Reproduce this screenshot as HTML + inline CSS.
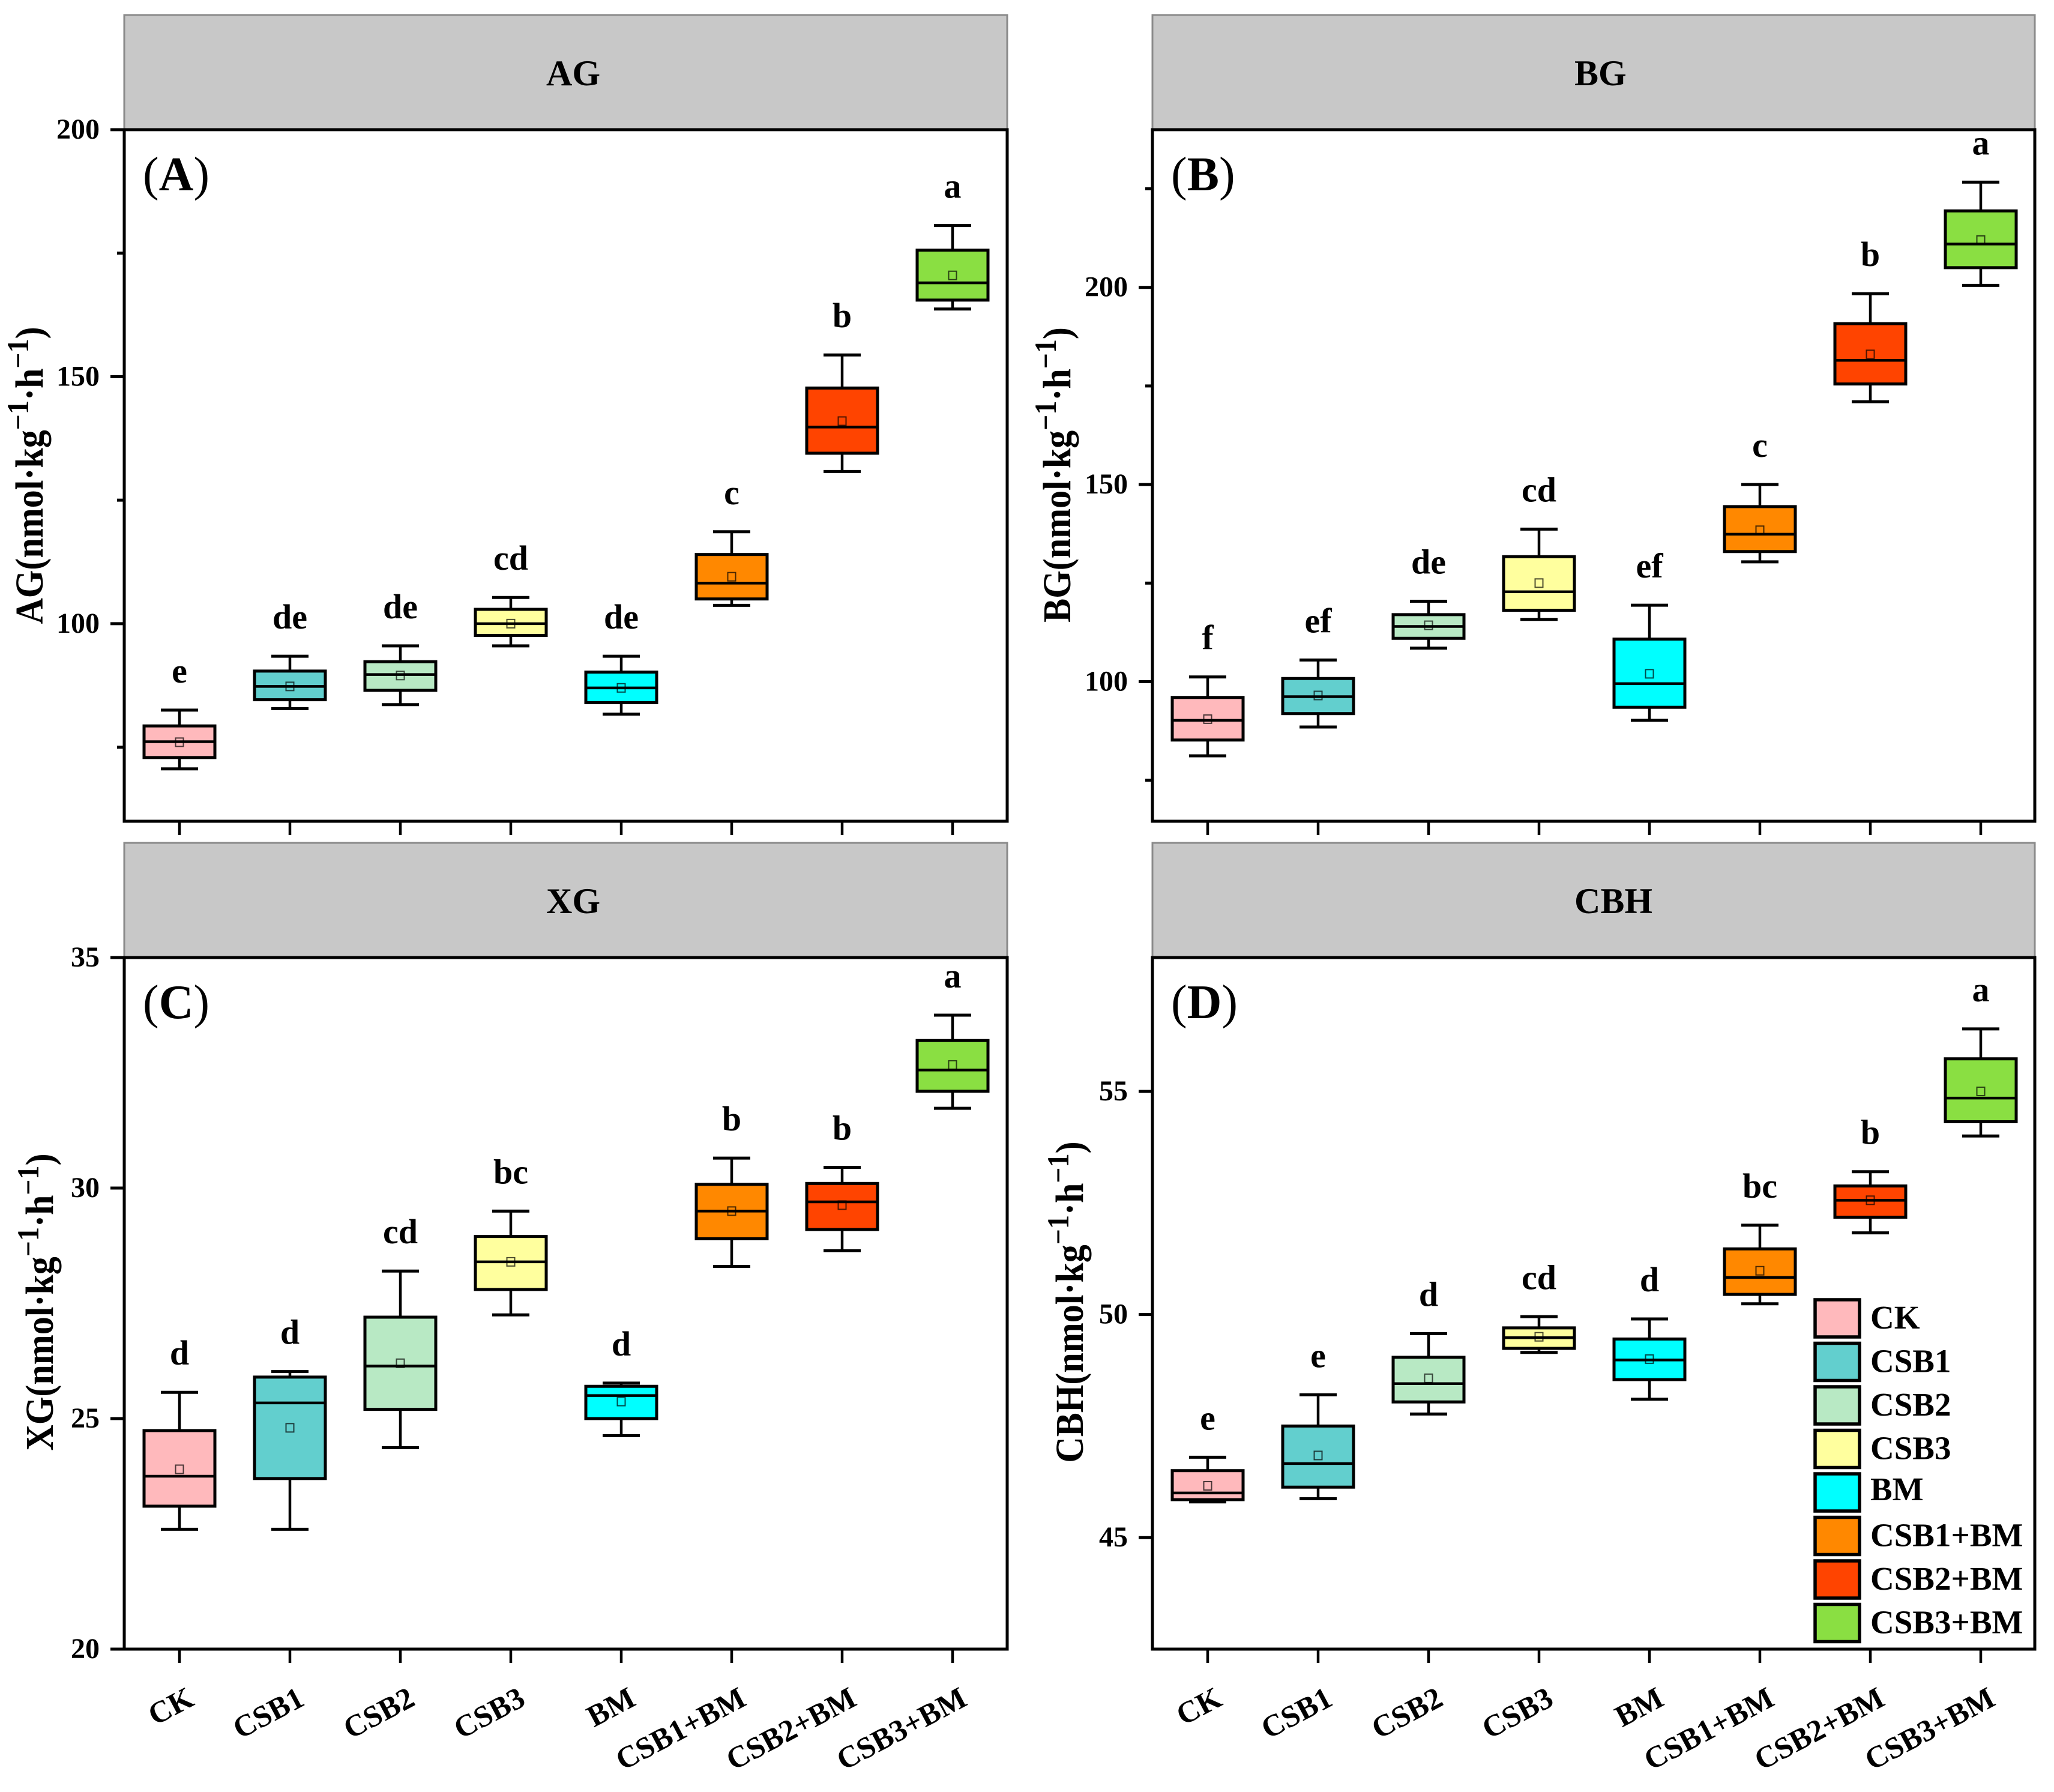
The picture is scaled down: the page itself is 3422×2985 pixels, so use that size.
<!DOCTYPE html>
<html lang="en">
<head>
<meta charset="utf-8">
<title>Enzyme activity box plots</title>
<style>
html,body{margin:0;padding:0;background:#fff;width:3422px;height:2985px;overflow:hidden}
svg{display:block}
text{font-family:"Liberation Serif",serif;font-weight:bold;fill:#000}
</style>
</head>
<body>
<svg id="chart" xmlns="http://www.w3.org/2000/svg" width="3422" height="2985" viewBox="0 0 3422 2985"></svg>
<script>
const categories = ['CK','CSB1','CSB2','CSB3','BM','CSB1+BM','CSB2+BM','CSB3+BM'];
const fillColors = ['#ffb9bc','#62cfce','#b8e9c4','#ffff9e','#00ffff','#ff8800','#ff4400','#8adf42'];

const agHigh   = [82.5,93.4,95.5,105.3,93.4,118.6,154.4,180.6];
const agQ3     = [79.3,90.4,92.3,102.9,90.2,114,147.7,175.6];
const agMedian = [76.1,87.3,89.7,100,87,108.2,139.8,169];
const agQ1     = [72.9,84.6,86.5,97.6,84,105,134.5,165.5];
const agLow    = [70.6,82.8,83.6,95.5,81.7,103.7,130.8,163.7];
const agMean   = [76,87.3,89.5,100,87,109.5,141,170.5];
const agLetters = ['e','de','de','cd','de','c','b','a'];
const agTicks = [100,150,200];
const agMinorTicks = [75,125,175];

const bgHigh   = [101.2,105.5,120.4,138.7,119.4,150,198.4,226.7];
const bgQ3     = [96,100.8,117,131.7,110.8,144.4,190.8,219.4];
const bgMedian = [90.2,96.2,114,122.8,99.5,137.4,181.5,211];
const bgQ1     = [85.2,91.9,111,118.1,93.5,133,175.5,205];
const bgLow    = [81.2,88.5,108.5,115.8,90.2,130.4,171,200.5];
const bgMean   = [90.5,96.5,114.3,125,102,138.4,183,212];
const bgLetters = ['f','ef','de','cd','ef','c','b','a'];
const bgTicks = [100,150,200];
const bgMinorTicks = [75,125,175,225];

const xgHigh   = [25.57,26.02,28.2,29.5,25.77,30.65,30.45,33.75];
const xgQ3     = [24.74,25.9,27.2,28.95,25.7,30.08,30.1,33.2];
const xgMedian = [23.75,25.34,26.14,28.4,25.5,29.5,29.7,32.56];
const xgQ1     = [23.1,23.7,25.2,27.8,25,28.9,29.1,32.1];
const xgLow    = [22.6,22.6,24.37,27.25,24.63,28.3,28.64,31.73];
const xgMean   = [23.9,24.8,26.2,28.4,25.37,29.5,29.63,32.67];
const xgLetters = ['d','d','cd','bc','d','b','b','a'];
const xgTicks = [20,25,30,35];
const xgMinorTicks = [];

const cbhHigh   = [46.8,48.2,49.57,49.95,49.9,52,53.2,56.4];
const cbhQ3     = [46.5,47.5,49.04,49.7,49.45,51.47,52.88,55.73];
const cbhMedian = [46,46.66,48.45,49.48,48.98,50.83,52.56,54.85];
const cbhQ1     = [45.85,46.13,48.04,49.24,48.54,50.45,52.18,54.32];
const cbhLow    = [45.8,45.87,47.77,49.15,48.1,50.24,51.83,54];
const cbhMean   = [46.16,46.84,48.57,49.5,49,50.98,52.56,55];
const cbhLetters = ['e','e','d','cd','d','bc','b','a'];
const cbhTicks = [45,50,55];
const cbhMinorTicks = [];

const panels = [
 {id:'ag',name:'AG',tag:'A',L:207,R:1678,T:216,B:1368,S:25,min:60,max:200,x0:299,hi:agHigh,q3:agQ3,med:agMedian,q1:agQ1,lo:agLow,mean:agMean,let:agLetters,ticks:agTicks,minor:agMinorTicks,titleX:71,titleY:792,xLabels:false},
 {id:'bg',name:'BG',tag:'B',L:1920,R:3390,T:216,B:1368,S:25,min:64.6,max:240,x0:2012,hi:bgHigh,q3:bgQ3,med:bgMedian,q1:bgQ1,lo:bgLow,mean:bgMean,let:bgLetters,ticks:bgTicks,minor:bgMinorTicks,titleX:1783,titleY:791,xLabels:false},
 {id:'xg',name:'XG',tag:'C',L:207,R:1678,T:1595,B:2747,S:1404,min:20,max:35,x0:299,hi:xgHigh,q3:xgQ3,med:xgMedian,q1:xgQ1,lo:xgLow,mean:xgMean,let:xgLetters,ticks:xgTicks,minor:xgMinorTicks,titleX:88,titleY:2169,xLabels:true},
 {id:'cbh',name:'CBH',tag:'D',L:1920,R:3390,T:1595,B:2747,S:1404,min:42.5,max:58,x0:2012,hi:cbhHigh,q3:cbhQ3,med:cbhMedian,q1:cbhQ1,lo:cbhLow,mean:cbhMean,let:cbhLetters,ticks:cbhTicks,minor:cbhMinorTicks,titleX:1804,titleY:2169,xLabels:true}
];

const NS = 'http://www.w3.org/2000/svg';
const root = document.getElementById('chart');
const DX = 184.0;

function mk(tag, parent, attrs, txt){
  const n = document.createElementNS(NS, tag);
  for (const k in attrs) n.setAttribute(k, attrs[k]);
  if (txt !== undefined) n.textContent = txt;
  parent.appendChild(n);
  return n;
}

function line(parent, x1, y1, x2, y2, w){
  return mk('line', parent, {x1:x1, y1:y1, x2:x2, y2:y2, stroke:'#000', 'stroke-width':w});
}

function drawTitle(p, g){
  const t = mk('text', g, {
    x:0, y:0, 'text-anchor':'middle', 'font-size':60,
    transform:'translate('+p.titleX+' '+p.titleY+') rotate(-90) scale(1 1.1)'
  });
  
  
  mk('tspan', t, {}, p.name + '(nmol·kg');
  mk('tspan', t, {dy:-22,'font-size':46}, '−1');
  mk('tspan', t, {dy:22}, '·h');
  mk('tspan', t, {dy:-22,'font-size':46}, '−1');
  mk('tspan', t, {dy:22}, ')');
}

function drawPanel(p){
  const yOf = v => p.B - (v - p.min) / (p.max - p.min) * (p.B - p.T);
  const xOf = i => p.x0 + i * DX;

  const g = mk('g', root, {});
  
  

  const strip = mk('rect', g, {x:p.L, y:p.S, width:p.R-p.L, height:p.T-p.S, fill:'#c8c8c8', stroke:'#8a8a8a', 'stroke-width':3});
  
  

  const stripText = mk('text', g, {x:p.L+703, y:p.S+117, 'font-size':60}, p.name);
  
  

  const frame = mk('rect', g, {x:p.L, y:p.T, width:p.R-p.L, height:p.B-p.T, fill:'#fff', stroke:'#000', 'stroke-width':5});
  
  

  const tag = mk('text', g, {x:p.L+31, y:p.T+101, 'font-size':80});
  
  
  mk('tspan', tag, {'font-weight':'normal'}, '(');
  mk('tspan', tag, {}, p.tag);
  mk('tspan', tag, {'font-weight':'normal'}, ')');

  p.ticks.forEach(v => {
    const y = yOf(v);
    const tk = line(g, p.L-23, y, p.L, y, 5);
    
    
    const lb = mk('text', g, {x:p.L-41, y:y+15, 'text-anchor':'end', 'font-size':48}, String(v));
    
    
  });
  p.minor.forEach(v => {
    const y = yOf(v);
    const tk = line(g, p.L-12, y, p.L, y, 5);
    
    
  });

  drawTitle(p, g);

  categories.forEach((c, i) => {
    const x = xOf(i);
    const tk = line(g, x, p.B, x, p.B+23, 4.5);
    
    
    if (p.xLabels){
      const ax = x + 27, ay = p.B + 92;
      const lb = mk('text', g, {x:ax, y:ay, 'text-anchor':'end', 'font-size':51, transform:'rotate(-28 '+ax+' '+ay+')'}, c);
      
      
    }

    const box = mk('g', g, {});
    
    

    line(box, x, yOf(p.hi[i]), x, yOf(p.lo[i]), 4.5);
    line(box, x-31, yOf(p.hi[i]), x+31, yOf(p.hi[i]), 5);
    line(box, x-31, yOf(p.lo[i]), x+31, yOf(p.lo[i]), 5);
    mk('rect', box, {x:x-59, y:yOf(p.q3[i]), width:118, height:yOf(p.q1[i])-yOf(p.q3[i]), fill:fillColors[i], stroke:'#000', 'stroke-width':5});
    line(box, x-59, yOf(p.med[i]), x+59, yOf(p.med[i]), 4.5);
    mk('rect', box, {x:x-6.5, y:yOf(p.mean[i])-7, width:13, height:14, fill:'none', stroke:'#000', 'stroke-opacity':0.7, 'stroke-width':2});

    const sig = mk('text', g, {x:x, y:yOf(p.hi[i])-46, 'text-anchor':'middle', 'font-size':58}, p.let[i]);
    
    
  });
}

panels.forEach(drawPanel);

function drawLegend(){
  const g = mk('g', root, {});
  
  
  categories.forEach((c, i) => {
    const y = 2165 + i * 72.5;
    const e = mk('g', g, {});
    
    
    mk('rect', e, {x:3024, y:y, width:74, height:62, fill:fillColors[i], stroke:'#000', 'stroke-width':5.5});
    mk('text', e, {x:3116, y:y+(c === 'BM' ? 44 : 48), 'font-size':55}, c);
  });
}
drawLegend();
</script>
</body>
</html>
